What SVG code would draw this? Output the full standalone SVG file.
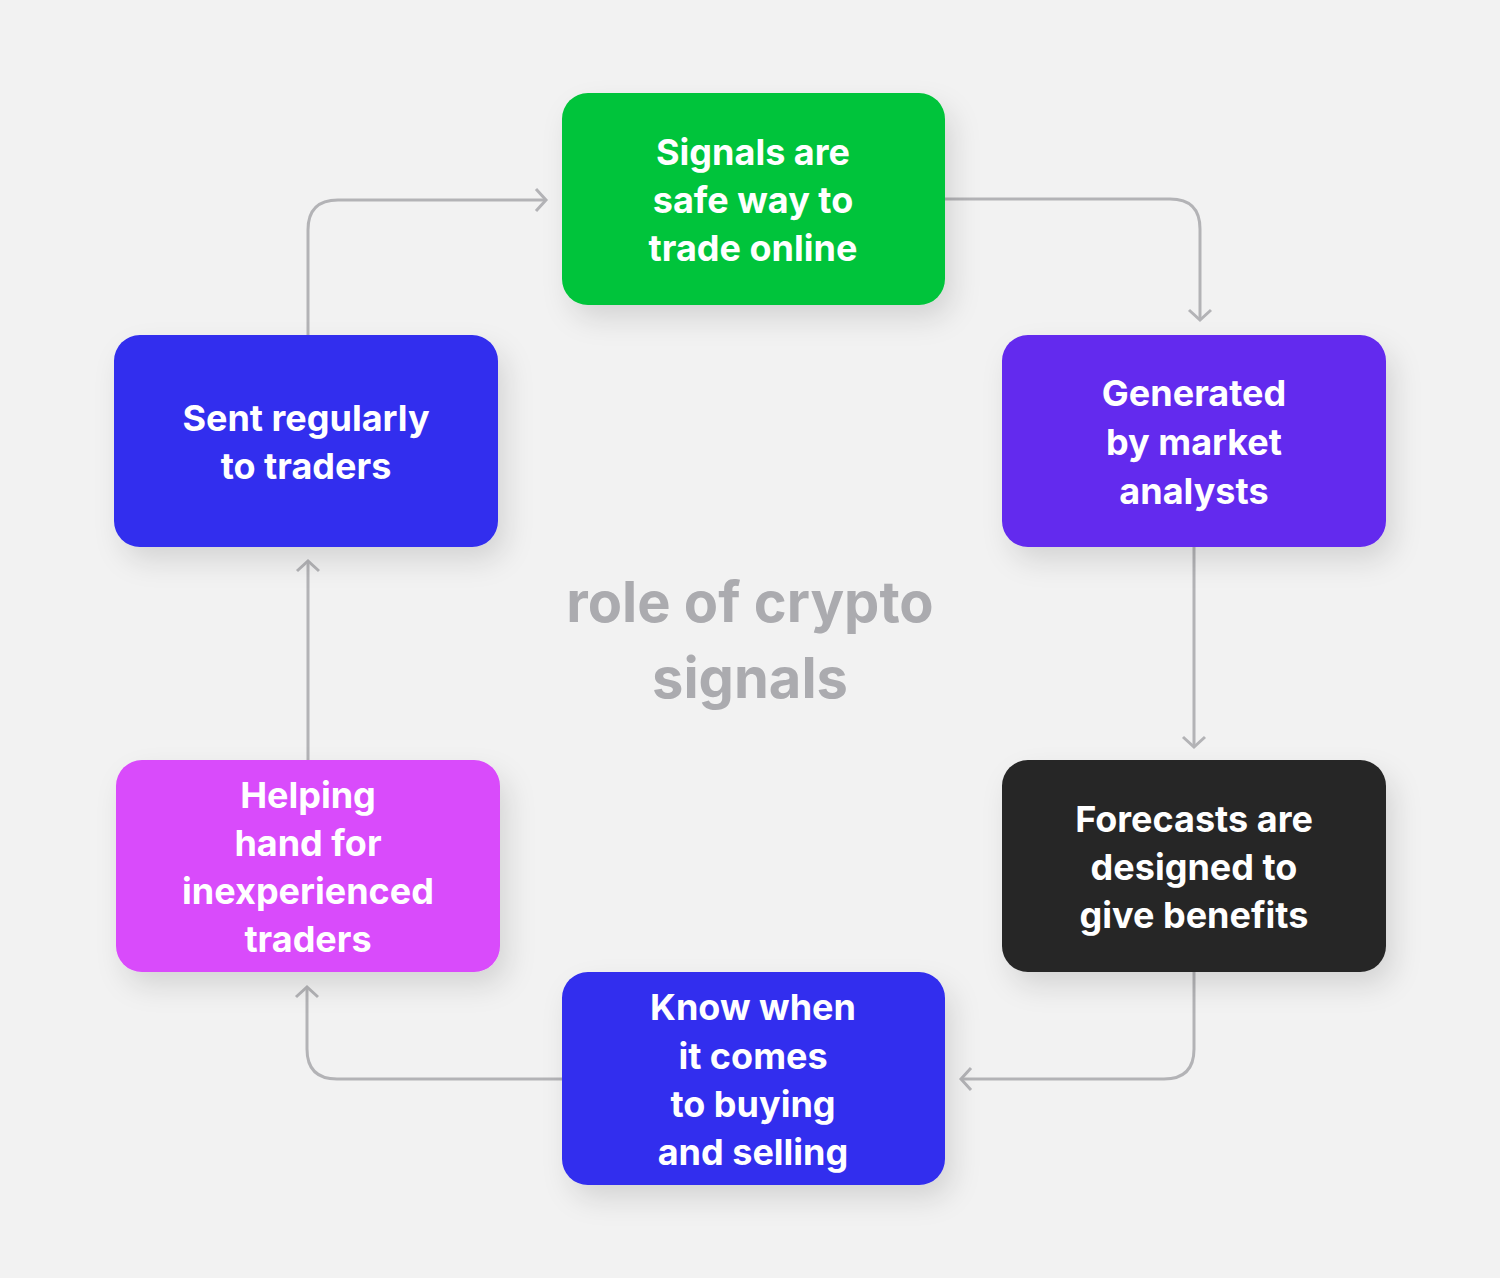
<svg xmlns="http://www.w3.org/2000/svg" width="1500" height="1278" viewBox="0 0 1500 1278">
<defs>
<style>
.n{font-family:Inter,"Noto Sans",sans-serif;font-weight:700;font-size:36px;fill:#fff;text-anchor:middle}
.c{fill:none;stroke:#B3B3B6;stroke-width:3}
.t{font-family:Inter,"Noto Sans",sans-serif;font-weight:700;font-size:56px;fill:#ABABAF;text-anchor:middle}
</style>
<filter id="sh" x="-20%" y="-20%" width="150%" height="160%"><feDropShadow dx="8" dy="14" stdDeviation="14" flood-color="#000" flood-opacity="0.12"/></filter>
<marker id="a" viewBox="-14 -14 28 28" markerWidth="28" markerHeight="28" markerUnits="userSpaceOnUse" refX="0" refY="0" orient="auto"><path d="M-10,-11 L0,0 L-10,11" fill="none" stroke="#B3B3B6" stroke-width="3"/></marker>
</defs>
<rect width="1500" height="1278" fill="#F2F2F2"/>
<g id="connectors">
<path class="c" d="M308,335 V230 Q308,200 338,200 H546" marker-end="url(#a)"/>
<path class="c" d="M945,199 H1170 Q1200,199 1200,229 V320" marker-end="url(#a)"/>
<path class="c" d="M1194,547 V747" marker-end="url(#a)"/>
<path class="c" d="M1194,972 V1049 Q1194,1079 1164,1079 H961" marker-end="url(#a)"/>
<path class="c" d="M562,1079 H337 Q307,1079 307,1049 V987" marker-end="url(#a)"/>
<path class="c" d="M308,760 V561" marker-end="url(#a)"/>
</g>
<g id="n1"><rect x="562" y="93" width="383" height="212" rx="26" fill="#05C43A" filter="url(#sh)"/><text class="n" x="753"><tspan x="753" y="165">Signals are</tspan><tspan x="753" y="213">safe way to</tspan><tspan x="753" y="261">trade online</tspan></text></g>
<g id="n2"><rect x="1002" y="335" width="384" height="212" rx="26" fill="#6329EE" filter="url(#sh)"/><text class="n"><tspan x="1194" y="406">Generated</tspan><tspan x="1194" y="455">by market</tspan><tspan x="1194" y="504">analysts</tspan></text></g>
<g id="n3"><rect x="1002" y="760" width="384" height="212" rx="26" fill="#252525" filter="url(#sh)"/><text class="n"><tspan x="1194" y="832">Forecasts are</tspan><tspan x="1194" y="880">designed to</tspan><tspan x="1194" y="928">give benefits</tspan></text></g>
<g id="n4"><rect x="562" y="972" width="383" height="213" rx="26" fill="#302DEE" filter="url(#sh)"/><text class="n"><tspan x="753" y="1020">Know when</tspan><tspan x="753" y="1069">it comes</tspan><tspan x="753" y="1117">to buying</tspan><tspan x="753" y="1165">and selling</tspan></text></g>
<g id="n5"><rect x="116" y="760" width="384" height="212" rx="26" fill="#D94BFB" filter="url(#sh)"/><text class="n"><tspan x="308" y="808">Helping</tspan><tspan x="308" y="856">hand for</tspan><tspan x="308" y="904">inexperienced</tspan><tspan x="308" y="952">traders</tspan></text></g>
<g id="n6"><rect x="114" y="335" width="384" height="212" rx="26" fill="#302DEE" filter="url(#sh)"/><text class="n"><tspan x="306" y="431">Sent regularly</tspan><tspan x="306" y="479">to traders</tspan></text></g>
<g id="title"><text class="t"><tspan x="750" y="622">role of crypto</tspan><tspan x="750" y="698">signals</tspan></text></g>
</svg>
